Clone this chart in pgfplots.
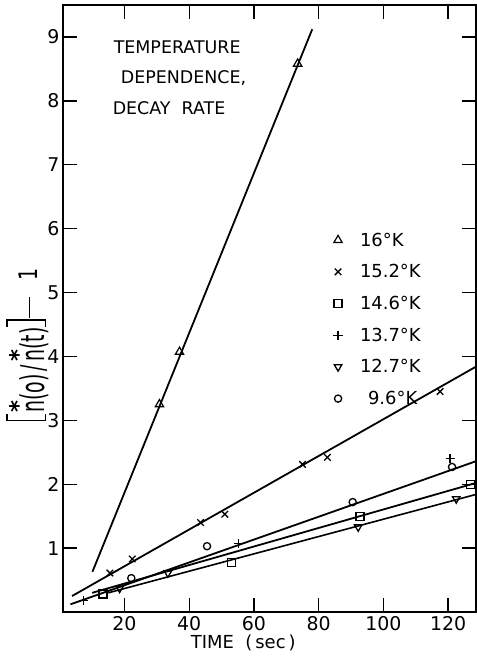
\documentclass[border=0pt]{standalone}
\usepackage{pgfplots}
\pgfplotsset{compat=1.18}
\usepackage{fontspec}
\setmainfont{DejaVu Sans}
\setsansfont{DejaVu Sans}
\newcommand\lbr{\rule[-2bp]{1.6bp}{40bp}\rule[-2bp]{6bp}{1.6bp}\hspace{-6bp}\rule[36.4bp]{6bp}{1.6bp}}
\newcommand\rbr{\rule[-2bp]{6bp}{1.6bp}\hspace{-6bp}\rule[36.4bp]{6bp}{1.6bp}\rule[-2bp]{1.6bp}{40bp}}
\newcommand\myast{\makebox[0pt][l]{\hspace{0bp}\raisebox{18bp}{\fontsize{23}{23}\selectfont\textbf{*}}}}
\begin{document}
\begin{tikzpicture}
\begin{axis}[
  name=ax,
  scale only axis,
  width=413bp, height=607bp,
  xmin=1, xmax=128.6, ymin=0, ymax=9.5,
  xtick={20,40,60,80,100,120},
  ytick={1,2,3,4,5,6,7,8,9},
  tick align=inside,
  major tick length=14bp,
  axis line style={line width=1.8bp},
  every tick/.style={line width=1.4bp, black},
  tick label style={font=\fontsize{19}{19}\selectfont},
  /pgf/number format/assume math mode=true,
  xticklabel style={yshift=-1bp},
  clip=false,
  legend style={draw=none, fill=none, at={(axis cs:84.5,5.97)}, anchor=north west,
    font=\fontsize{18}{18}\selectfont, row sep=12.9bp, inner sep=0pt},
  legend cell align=left,
  legend image code/.code={\path[draw=none] (0bp,0bp) -- (20bp,0bp); \draw plot coordinates {(0bp,0bp)};},
]
% fitted lines
\addplot[black, line width=1.8bp, forget plot] coordinates {(10.1,0.63) (78,9.12)};
\addplot[black, line width=1.8bp, forget plot] coordinates {(3.8,0.25) (128.6,3.84)};
\addplot[black, line width=1.8bp, forget plot] coordinates {(3.3,0.12) (128.6,2.36)};
\addplot[black, line width=1.8bp, forget plot] coordinates {(10,0.30) (128.6,2.02)};
\addplot[black, line width=1.6bp, forget plot] coordinates {(15,0.30) (128.6,1.84)};
% data
\addplot[only marks, mark=triangle, mark size=4.8bp, line width=1.2bp] coordinates {(30.8,3.25) (37,4.07) (73.5,8.58)};
\addlegendentry{16°K}
\addplot[only marks, mark=x, mark size=4.6bp, line width=1.3bp] coordinates {(15.5,0.61) (22.4,0.83) (43.5,1.40) (51,1.53) (75,2.31) (82.7,2.42) (117.5,3.45)};
\addlegendentry{15.2°K}
\addplot[only marks, mark=square, mark size=4bp, line width=1.3bp] coordinates {(13.4,0.28) (53,0.77) (92.8,1.50) (127,1.99)};
\addlegendentry{14.6°K}
\addplot[only marks, mark=+, mark size=4.6bp, line width=1.3bp] coordinates {(7.3,0.18) (55.3,1.07) (120.6,2.40)};
\addlegendentry{13.7°K}
\addplot[only marks, mark=triangle, mark options={rotate=180}, mark size=4.3bp, line width=1.3bp] coordinates {(18.5,0.37) (33.4,0.61) (92.2,1.33) (122.5,1.77)};
\addlegendentry{12.7°K}
\addplot[only marks, mark=o, mark size=3.6bp, line width=1.3bp] coordinates {(22.1,0.53) (45.5,1.03) (90.5,1.72) (121.2,2.27)};
\addlegendentry{\hspace{8bp}9.6°K}
% annotations
\node[anchor=west, font=\fontsize{17.5}{17.5}\selectfont] at (axis cs:15.6,8.84) {TEMPERATURE};
\node[anchor=west, font=\fontsize{17.5}{17.5}\selectfont] at (axis cs:17.8,8.36) {DEPENDENCE,};
\node[anchor=west, font=\fontsize{17.5}{17.5}\selectfont] at (axis cs:15.3,7.89) {DECAY\ \ RATE};
\node[font=\fontsize{18}{18}\selectfont] at (axis cs:56.7,-0.48) {TIME\ \ (\,sec\,)};
\node[rotate=90, anchor=west, inner sep=0pt, font=\fontsize{19}{19}\selectfont] at (axis cs:-9.94,2.98)
  {\lbr\hspace{1bp}\myast\scalebox{1}[1.73]{n(o)\,/\,}\myast\scalebox{1}[1.73]{n(t)}\hspace{1bp}\rbr\hspace{1bp}\rule[14bp]{21bp}{1.8bp}\hspace{16bp}\raisebox{7bp}{\scalebox{1}[1.35]{1}}};
\end{axis}
\pgfresetboundingbox
\path ([xshift=-63bp,yshift=-46bp]ax.south west) rectangle ([xshift=1bp,yshift=5bp]ax.north east);
\end{tikzpicture}
\end{document}
